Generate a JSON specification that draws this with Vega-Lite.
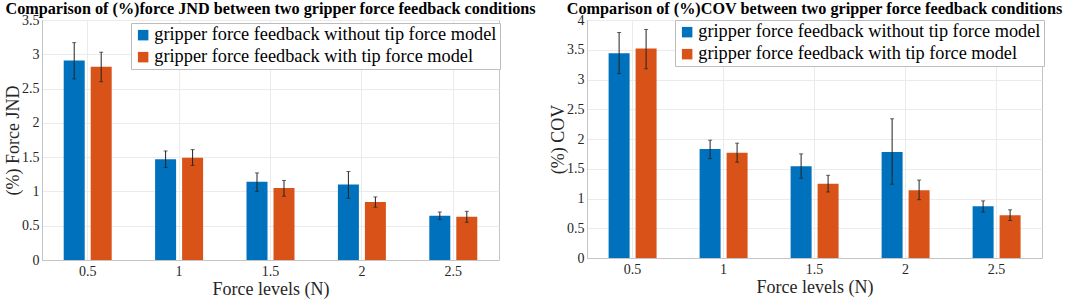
{
  "$schema": "https://vega.github.io/schema/vega-lite/v6.json",
  "background": "white",
  "padding": {"left": 4, "top": 0, "right": 0, "bottom": 0},
  "bounds": "flush",
  "spacing": 88,
  "datasets": {
    "jnd": [
      {"force": "0.5", "cond": "gripper force feedback without tip force model", "mean": 2.91, "lo": 2.64, "hi": 3.17},
      {"force": "0.5", "cond": "gripper force feedback with tip force model", "mean": 2.82, "lo": 2.60, "hi": 3.03},
      {"force": "1", "cond": "gripper force feedback without tip force model", "mean": 1.47, "lo": 1.35, "hi": 1.59},
      {"force": "1", "cond": "gripper force feedback with tip force model", "mean": 1.49, "lo": 1.38, "hi": 1.61},
      {"force": "1.5", "cond": "gripper force feedback without tip force model", "mean": 1.14, "lo": 1.00, "hi": 1.27},
      {"force": "1.5", "cond": "gripper force feedback with tip force model", "mean": 1.05, "lo": 0.93, "hi": 1.16},
      {"force": "2", "cond": "gripper force feedback without tip force model", "mean": 1.10, "lo": 0.90, "hi": 1.29},
      {"force": "2", "cond": "gripper force feedback with tip force model", "mean": 0.845, "lo": 0.77, "hi": 0.92},
      {"force": "2.5", "cond": "gripper force feedback without tip force model", "mean": 0.646, "lo": 0.59, "hi": 0.70},
      {"force": "2.5", "cond": "gripper force feedback with tip force model", "mean": 0.63, "lo": 0.55, "hi": 0.71}
    ],
    "cov": [
      {"force": "0.5", "cond": "gripper force feedback without tip force model", "mean": 3.44, "lo": 3.10, "hi": 3.79},
      {"force": "0.5", "cond": "gripper force feedback with tip force model", "mean": 3.52, "lo": 3.18, "hi": 3.84},
      {"force": "1", "cond": "gripper force feedback without tip force model", "mean": 1.83, "lo": 1.67, "hi": 1.98},
      {"force": "1", "cond": "gripper force feedback with tip force model", "mean": 1.77, "lo": 1.61, "hi": 1.93},
      {"force": "1.5", "cond": "gripper force feedback without tip force model", "mean": 1.54, "lo": 1.34, "hi": 1.75},
      {"force": "1.5", "cond": "gripper force feedback with tip force model", "mean": 1.25, "lo": 1.11, "hi": 1.39},
      {"force": "2", "cond": "gripper force feedback without tip force model", "mean": 1.78, "lo": 1.24, "hi": 2.34},
      {"force": "2", "cond": "gripper force feedback with tip force model", "mean": 1.14, "lo": 0.98, "hi": 1.31},
      {"force": "2.5", "cond": "gripper force feedback without tip force model", "mean": 0.87, "lo": 0.77, "hi": 0.96},
      {"force": "2.5", "cond": "gripper force feedback with tip force model", "mean": 0.72, "lo": 0.63, "hi": 0.81}
    ]
  },
  "config": {
    "font": "Liberation Serif",
    "view": {"stroke": "#c4c4c4", "strokeWidth": 1},
    "axis": {
      "labelFont": "Liberation Serif",
      "labelFontSize": 14,
      "labelColor": "#262626",
      "labelOverlap": false,
      "titleFont": "Liberation Serif",
      "titleFontSize": 18,
      "titleFontWeight": "normal",
      "titleColor": "#262626",
      "domainColor": "#c4c4c4",
      "gridColor": "#ebebeb",
      "ticks": false
    },
    "legend": {"labelFont": "Liberation Serif"},
    "title": {"font": "Liberation Serif", "fontSize": 16.2, "fontWeight": "bold", "color": "black", "offset": -4, "frame": "group"}
  },
  "hconcat": [
    {
      "width": 457,
      "height": 240,
      "title": "Comparison of (%)force JND between two gripper force feedback conditions",
      "data": {"name": "jnd"},
      "encoding": {
        "x": {"field": "force", "type": "nominal", "scale": {"paddingInner": 0.475, "paddingOuter": 0.2375},
              "axis": {"title": "Force levels (N)", "labelAngle": 0, "grid": true, "labelPadding": 4, "titlePadding": 2}},
        "xOffset": {"field": "cond", "type": "nominal", "sort": ["gripper force feedback without tip force model", "gripper force feedback with tip force model"], "scale": {"paddingInner": 0.222}}
      },
      "layer": [
        {
          "mark": {"type": "bar"},
          "encoding": {
            "y": {"field": "mean", "type": "quantitative", "scale": {"domain": [0, 3.5], "nice": false},
                  "axis": {"title": "(%) Force JND", "values": [0, 0.5, 1, 1.5, 2, 2.5, 3, 3.5], "format": "~g", "grid": true, "labelOverlap": false, "labelPadding": 3, "titlePadding": -1}},
            "color": {"field": "cond", "type": "nominal", "sort": ["gripper force feedback without tip force model", "gripper force feedback with tip force model"],
                      "scale": {"domain": ["gripper force feedback without tip force model", "gripper force feedback with tip force model"], "range": ["#0072BD", "#D95319"]},
                      "legend": {"orient": "none", "legendX": 89, "legendY": 3, "title": null, "direction": "vertical", "fillColor": "white", "strokeColor": "#bdbdbd", "padding": 3, "labelFont": "Liberation Serif", "labelFontSize": 18.3, "labelColor": "black", "symbolType": "square", "symbolSize": 110, "symbolStrokeWidth": 0, "labelLimit": 0, "labelOffset": 2, "rowPadding": 3}}
          }
        },
        {
          "mark": {"type": "rule", "color": "#222222", "strokeWidth": 1},
          "encoding": {"y": {"field": "lo", "type": "quantitative", "axis": {"title": "(%) Force JND", "values": [0, 0.5, 1, 1.5, 2, 2.5, 3, 3.5], "format": "~g", "grid": true, "labelOverlap": false, "labelPadding": 3, "titlePadding": -1}}, "y2": {"field": "hi"}}
        },
        {
          "mark": {"type": "tick", "color": "#222222", "thickness": 1, "size": 4},
          "encoding": {"y": {"field": "lo", "type": "quantitative", "axis": {"title": "(%) Force JND", "values": [0, 0.5, 1, 1.5, 2, 2.5, 3, 3.5], "format": "~g", "grid": true, "labelOverlap": false, "labelPadding": 3, "titlePadding": -1}}}
        },
        {
          "mark": {"type": "tick", "color": "#222222", "thickness": 1, "size": 4},
          "encoding": {"y": {"field": "hi", "type": "quantitative", "axis": {"title": "(%) Force JND", "values": [0, 0.5, 1, 1.5, 2, 2.5, 3, 3.5], "format": "~g", "grid": true, "labelOverlap": false, "labelPadding": 3, "titlePadding": -1}}}
        }
      ]
    },
    {
      "width": 455,
      "height": 238,
      "title": "Comparison of (%)COV between two gripper force feedback conditions",
      "data": {"name": "cov"},
      "encoding": {
        "x": {"field": "force", "type": "nominal", "scale": {"paddingInner": 0.475, "paddingOuter": 0.2375},
              "axis": {"title": "Force levels (N)", "labelAngle": 0, "grid": true, "labelPadding": 4, "titlePadding": 2}},
        "xOffset": {"field": "cond", "type": "nominal", "sort": ["gripper force feedback without tip force model", "gripper force feedback with tip force model"], "scale": {"paddingInner": 0.222}}
      },
      "layer": [
        {
          "mark": {"type": "bar"},
          "encoding": {
            "y": {"field": "mean", "type": "quantitative", "scale": {"domain": [0, 4], "nice": false},
                  "axis": {"title": "(%) COV", "values": [0, 0.5, 1, 1.5, 2, 2.5, 3, 3.5, 4], "format": "~g", "grid": true, "labelOverlap": false, "labelPadding": 3, "titlePadding": -1}},
            "color": {"field": "cond", "type": "nominal", "sort": ["gripper force feedback without tip force model", "gripper force feedback with tip force model"],
                      "scale": {"domain": ["gripper force feedback without tip force model", "gripper force feedback with tip force model"], "range": ["#0072BD", "#D95319"]},
                      "legend": {"orient": "none", "legendX": 88, "legendY": 0, "title": null, "direction": "vertical", "fillColor": "white", "strokeColor": "#bdbdbd", "padding": 3, "labelFont": "Liberation Serif", "labelFontSize": 18.3, "labelColor": "black", "symbolType": "square", "symbolSize": 110, "symbolStrokeWidth": 0, "labelLimit": 0, "labelOffset": 2, "rowPadding": 3}}
          }
        },
        {
          "mark": {"type": "rule", "color": "#222222", "strokeWidth": 1},
          "encoding": {"y": {"field": "lo", "type": "quantitative", "axis": {"title": "(%) COV", "values": [0, 0.5, 1, 1.5, 2, 2.5, 3, 3.5, 4], "format": "~g", "grid": true, "labelOverlap": false, "labelPadding": 3, "titlePadding": -1}}, "y2": {"field": "hi"}}
        },
        {
          "mark": {"type": "tick", "color": "#222222", "thickness": 1, "size": 4},
          "encoding": {"y": {"field": "lo", "type": "quantitative", "axis": {"title": "(%) COV", "values": [0, 0.5, 1, 1.5, 2, 2.5, 3, 3.5, 4], "format": "~g", "grid": true, "labelOverlap": false, "labelPadding": 3, "titlePadding": -1}}}
        },
        {
          "mark": {"type": "tick", "color": "#222222", "thickness": 1, "size": 4},
          "encoding": {"y": {"field": "hi", "type": "quantitative", "axis": {"title": "(%) COV", "values": [0, 0.5, 1, 1.5, 2, 2.5, 3, 3.5, 4], "format": "~g", "grid": true, "labelOverlap": false, "labelPadding": 3, "titlePadding": -1}}}
        }
      ]
    }
  ],
  "resolve": {"legend": {"color": "independent"}, "scale": {"y": "independent"}}
}
